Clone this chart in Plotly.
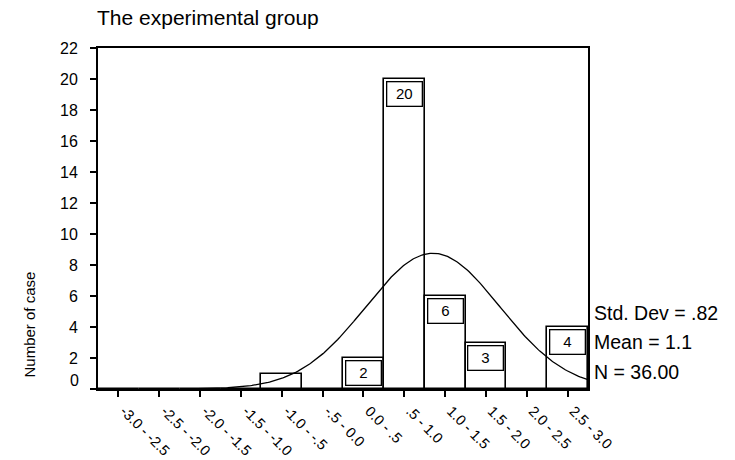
import numpy as np
import plotly.graph_objects as go

# ---- data ----
bin_labels = ["-3.0 - -2.5", "-2.5 - -2.0", "-2.0 - -1.5", "-1.5 - -1.0", "-1.0 - -.5",
              "-.5 - 0.0", "0.0 - .5", ".5 - 1.0", "1.0 - 1.5", "1.5 - 2.0",
              "2.0 - 2.5", "2.5 - 3.0"]
bin_centers = [-2.75, -2.25, -1.75, -1.25, -0.75, -0.25, 0.25, 0.75, 1.25, 1.75, 2.25, 2.75]
counts = [0, 0, 0, 0, 1, 0, 2, 20, 6, 3, 0, 4]
bin_width = 0.5
std_dev = 0.82
mean = 1.1
n_cases = 36
y_ticks = [0, 2, 4, 6, 8, 10, 12, 14, 16, 18, 20, 22]

FONT = "Liberation Sans, Arial, sans-serif"

fig = go.Figure()
fig.add_trace(go.Bar(
    x=bin_centers, y=counts, width=bin_width,
    marker=dict(color="white", line=dict(color="black", width=1.6)),
    showlegend=False, hoverinfo="skip"))

# fitted normal curve from displayed statistics
xc = np.linspace(-1.9, 3.0, 300)
yc = n_cases * bin_width / (std_dev * np.sqrt(2 * np.pi)) * np.exp(-0.5 * ((xc - mean) / std_dev) ** 2)
fig.add_trace(go.Scatter(x=xc, y=yc, mode="lines", line=dict(color="black", width=1.3),
                         showlegend=False, hoverinfo="skip"))

annotations = []
for xv, c in zip(bin_centers, counts):
    if c >= 2:
        annotations.append(dict(x=xv, y=c, xref="x", yref="y", text=str(c), showarrow=False,
                                yanchor="top", yshift=-2, font=dict(family=FONT, size=15, color="black"),
                                bgcolor="white", bordercolor="black", borderwidth=1.3,
                                borderpad=2, width=30, height=19))
stats = [("Std. Dev = .82", 0.223), ("Mean = 1.1", 0.138), ("N = 36.00", 0.050)]
for t, yp in stats:
    annotations.append(dict(x=1, y=yp, xref="paper", yref="paper", text=t, showarrow=False,
                            xanchor="left", yanchor="middle", xshift=4,
                            font=dict(family=FONT, size=19.5, color="black")))
annotations.append(dict(x=0, y=0, xref="paper", yref="y", text="0", showarrow=False,
                        xanchor="right", yanchor="middle", xshift=-17, yshift=9,
                        font=dict(family=FONT, size=16, color="black")))
annotations.append(dict(x=(28.5 - 98) / 490, y=(389 - 325) / 341, xref="paper", yref="paper",
                        text="Number of case", showarrow=False, textangle=-90,
                        xanchor="center", yanchor="middle",
                        font=dict(family=FONT, size=15, color="black")))

fig.update_layout(
    width=735, height=460,
    margin=dict(l=98, r=147, t=48, b=71, autoexpand=False),
    paper_bgcolor="white", plot_bgcolor="white",
    bargap=0,
    title=dict(text="The experimental group", x=97 / 735, xanchor="left", xref="container",
               y=1 - 18 / 460, yanchor="middle", yref="container",
               font=dict(family=FONT, size=21, color="black")),
    annotations=annotations,
    xaxis=dict(range=[-3, 3], tickmode="array", tickvals=bin_centers, ticktext=bin_labels,
               tickangle=45, ticks="outside", ticklen=6, tickwidth=1.5, tickcolor="black",
               showline=True, linecolor="black", linewidth=2, mirror=True, showgrid=False,
               zeroline=False, automargin=False, ticklabelstandoff=0, ticklabelshift=6,
               tickfont=dict(family=FONT, size=14.5, color="black")),
    yaxis=dict(range=[0, 22], tickmode="array", tickvals=y_ticks,
               ticktext=[("" if v == 0 else str(v)) for v in y_ticks],
               ticks="outside", ticklen=6, tickwidth=1.5, tickcolor="black",
               showline=True, linecolor="black", linewidth=2, mirror=True, showgrid=False,
               zeroline=False, ticklabelstandoff=9, automargin=False,
               tickfont=dict(family=FONT, size=16, color="black")),
)
fig.write_html("out.html")
